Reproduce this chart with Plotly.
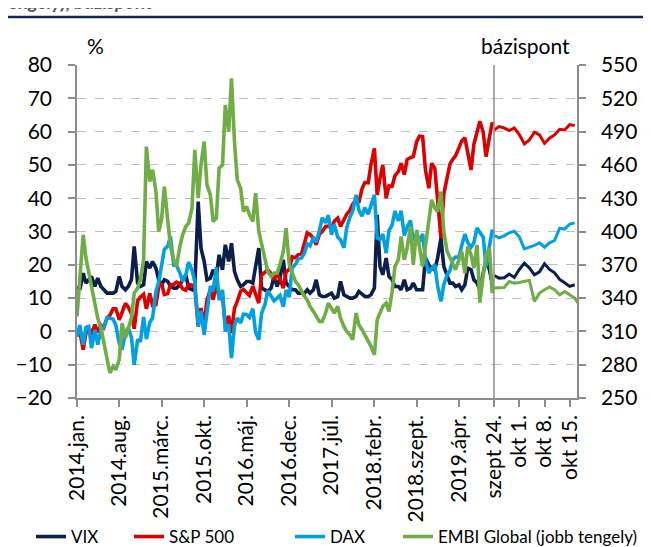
import pandas as pd
import plotly.graph_objects as go

# ---------------- data ----------------
# left panel: semi-monthly observations 2014-01 .. 2019-09
left_dates = list(pd.date_range('2014-01-01', '2019-09-15', freq='SMS').strftime('%Y-%m-%d')) + ['2019-09-23']

vix_left = (
    [13.5, 12.5, 17.5, 14.5, 15.5, 16.5, 13.5, 16.0, 13.5, 12.5, 11.5, 11.5, 11.5, 12.0, 16.5, 13.5, 12.5, 13.5, 15.5, 25.5, 14.5, 13.5, 14.0, 21.0]
    + [19.0, 21.0, 19.0, 15.5, 14.0, 15.5, 15.0, 13.5, 13.0, 13.0, 14.0, 15.5, 17.0, 13.0, 12.5, 13.5, 39.0, 25.0, 21.0, 15.5, 16.0, 18.5, 16.5, 23.0]
    + [18.5, 26.0, 21.0, 26.5, 18.0, 15.5, 13.5, 14.0, 15.0, 15.0, 14.5, 19.5, 25.0, 13.0, 12.5, 12.0, 13.0, 16.5, 13.5, 16.0, 21.5, 14.5, 13.5, 12.5]
    + [12.5, 11.5, 11.5, 11.5, 12.5, 11.5, 12.5, 15.5, 11.0, 10.5, 10.5, 11.0, 11.5, 10.0, 10.5, 15.0, 11.0, 10.5, 10.0, 10.0, 10.5, 12.0, 11.0, 10.5]
    + [10.5, 11.0, 13.0, 35.0, 19.5, 17.0, 22.0, 16.5, 15.5, 13.5, 13.5, 12.5, 15.5, 12.5, 13.0, 14.5, 12.5, 12.5, 12.5, 22.0, 20.0, 19.0, 18.5, 22.0]
    + [28.0, 19.5, 17.0, 14.5, 14.5, 13.5, 14.0, 12.5, 14.0, 19.0, 18.5, 15.5, 14.5, 12.5, 17.5, 21.5, 18.5, 14.5, 15.0]
)
sp500_left = (
    [-0.9, 0.0, -5.5, -0.5, 0.6, -0.4, 2.0, -0.3, 1.9, 1.1, 4.1, 4.8, 6.8, 6.8, 3.5, 5.8, 8.4, 7.3, 5.3, 0.8, 9.2, 10.3, 11.1, 6.8]
    + [11.4, 7.8, 8.0, 13.4, 14.5, 11.1, 11.4, 14.0, 14.1, 14.8, 14.3, 12.8, 12.4, 14.1, 13.9, 13.2, 1.5, 7.0, 2.0, 9.5, 12.5, 9.5, 13.8, 10.6]
    + [10.6, 1.7, 4.7, -0.5, 7.0, 9.0, 12.1, 12.6, 11.7, 10.8, 13.6, 11.5, 8.5, 16.9, 17.6, 18.5, 17.4, 15.5, 17.3, 15.7, 13.0, 17.9, 18.6, 22.4]
    + [22.1, 23.1, 23.4, 27.1, 29.6, 29.1, 28.0, 26.0, 29.2, 30.0, 31.5, 31.6, 31.1, 33.1, 34.0, 31.5, 33.9, 35.2, 36.3, 38.2, 39.5, 38.7, 42.9, 44.7]
    + [44.6, 50.2, 55.0, 41.0, 46.0, 50.0, 40.0, 43.7, 43.6, 46.7, 48.0, 50.5, 47.1, 51.6, 52.2, 52.5, 57.0, 58.6, 58.5, 48.6, 43.0, 50.5, 49.0, 40.6]
    + [28.0, 41.2, 46.5, 50.2, 51.7, 52.7, 55.1, 57.2, 58.1, 54.2, 48.5, 56.2, 60.4, 63.1, 59.8, 52.5, 58.3, 62.7, 61.9]
)
dax_left = (
    [-1.6, 1.9, -4.0, 1.2, 1.5, -5.0, 0.5, -4.0, 0.5, 1.1, 4.1, 3.8, 3.7, 1.8, -3.6, -5.5, -0.4, 1.1, -1.8, -10.0, -2.4, -3.1, 4.3, -2.3]
    + [2.7, 4.0, 12.0, 14.8, 19.4, 24.6, 25.6, 28.5, 19.9, 19.8, 17.6, 15.0, 17.0, 20.8, 18.4, 15.0, 1.5, 6.1, -1.0, 5.4, 13.6, 12.1, 19.2, 9.4]
    + [12.5, 0.0, 2.1, -8.0, 1.7, 4.0, 2.5, 5.2, 5.1, 4.2, 6.8, -0.3, -2.5, 5.4, 8.1, 12.2, 10.3, 9.2, 10.0, 10.8, 7.4, 12.4, 10.3, 19.0]
    + [20.2, 21.7, 22.1, 23.5, 26.3, 25.7, 28.3, 26.8, 30.2, 34.1, 32.6, 34.9, 29.0, 32.2, 28.3, 27.5, 25.1, 31.1, 34.3, 36.0, 41.0, 36.4, 34.6, 37.2]
    + [35.2, 38.2, 41.0, 28.0, 27.6, 29.2, 23.5, 30.3, 32.0, 36.1, 33.2, 36.2, 28.8, 31.3, 33.3, 27.3, 29.4, 26.9, 29.3, 21.6, 17.5, 18.9, 20.0, 13.7]
    + [9.0, 14.0, 17.0, 18.3, 21.5, 22.3, 22.3, 25.8, 29.2, 26.7, 25.3, 26.6, 31.1, 29.7, 28.3, 19.5, 25.0, 30.5, 29.2]
)
embi_left = (
    [323.5, 359.5, 397, 376, 364, 352, 334, 322, 313, 301, 283, 272.5, 278.5, 275.5, 284.5, 317.5, 304, 313, 322, 344.5, 349, 356.5, 374.5, 476.5]
    + [445, 455.5, 436, 400, 410.5, 440.5, 409, 386.5, 374.5, 368.5, 386.5, 397, 404.5, 407.5, 421, 473.5, 430, 460, 481, 442, 433, 409, 412, 457]
    + [460, 514, 490, 538, 481, 446.5, 439, 418, 422.5, 415, 409, 434.5, 400, 388, 376, 364, 359.5, 362.5, 362.5, 370, 382, 403, 370, 362.5]
    + [355, 352, 346, 341.5, 338.5, 332.5, 328, 323.5, 319, 319, 326.5, 335.5, 331, 326.5, 332.5, 322, 314.5, 310, 307, 302.5, 326.5, 316, 311.5, 307]
    + [301, 296.5, 289, 320.5, 326.5, 332.5, 335.5, 328, 346, 368.5, 374.5, 395.5, 374.5, 385, 404.5, 370, 401.5, 386.5, 368.5, 386.5, 409, 428.5, 421, 418]
    + [436, 400, 382, 376, 370, 365.5, 374.5, 382, 362.5, 386.5, 379, 367, 388, 336, 361, 379, 385, 344.5, 355]
)

# right panel: daily observations 24 Sept - 16/17 Oct 2019
right_dates = ['2019-09-24', '2019-09-25', '2019-09-26', '2019-09-27', '2019-09-30',
               '2019-10-01', '2019-10-02', '2019-10-03', '2019-10-04', '2019-10-07',
               '2019-10-08', '2019-10-09', '2019-10-10', '2019-10-11', '2019-10-14',
               '2019-10-15', '2019-10-16']
embi_right_dates = right_dates + ['2019-10-17']
vix_right = [16.8, 16.0, 16.1, 17.2, 16.2, 18.6, 20.5, 19.1, 17.0, 17.9, 20.3, 18.6, 17.6, 15.6, 14.6, 13.5, 14.0]
sp500_right = [60.5, 61.5, 61.1, 60.3, 61.1, 59.1, 56.3, 57.5, 59.8, 59.0, 56.5, 58.0, 59.0, 60.7, 60.5, 62.1, 61.8]
dax_right = [28.8, 28.1, 28.7, 29.6, 30.1, 28.4, 24.8, 25.3, 25.8, 26.6, 25.3, 26.6, 27.3, 31.0, 30.7, 32.2, 32.6]
embi_right = [349, 349, 349.5, 355, 353.5, 354, 355, 356, 337, 344.5, 347.5, 350, 347.5, 343, 346, 343, 340, 333]

left_tick_vals = ['2014-01-01', '2014-08-01', '2015-03-01', '2015-10-01', '2016-05-01',
                  '2016-12-01', '2017-07-01', '2018-02-01', '2018-09-01', '2019-04-01']
left_tick_text = ['2014.jan.', '2014.aug.', '2015.márc.', '2015.okt.', '2016.máj.',
                  '2016.dec.', '2017.júl.', '2018.febr.', '2018.szept.', '2019.ápr.']
right_tick_vals = ['2019-09-24', '2019-10-01', '2019-10-08', '2019-10-15']
right_tick_text = ['szept 24.', 'okt 1.', 'okt 8.', 'okt 15.']

series_names = ['VIX', 'S&P 500', 'DAX', 'EMBI Global (jobb tengely)']
colors = ['#0C1F4A', '#DD0000', '#00A0E3', '#70AD47']

# ---------------- figure ----------------
GREY = '#8C8C8C'
FONT = 'Lato'
W, H = 651, 547
OFF = 8  # page body margin: screen px = figure px + OFF
# plot area in screen pixels: x 77..577, y 65..398
ML = 77 - OFF
MT = 65 - OFF
MR = W - (577 - OFF)
MB = H - (398 - OFF)
PW, PH = W - ML - MR, H - MT - MB
SPLIT = (494 - 77) / PW


def px_x(p):
    """screen x pixel -> paper x"""
    return (p - OFF - ML) / PW


def px_y(p):
    """screen y pixel -> paper y"""
    return (H - MB - (p - OFF)) / PH


fig = go.Figure()
left_sets = [(vix_left, 'y'), (sp500_left, 'y'), (dax_left, 'y'), (embi_left, 'y2')]
right_sets = [(right_dates, vix_right, 'y'), (right_dates, sp500_right, 'y'),
              (right_dates, dax_right, 'y'), (embi_right_dates, embi_right, 'y2')]
legend_widths = [53, 116, 40, None]
legend_ids = ['legend', 'legend', 'legend', 'legend2']

for i, name in enumerate(series_names):
    vals, yax = left_sets[i]
    kw = {}
    if legend_widths[i] is not None:
        kw['legendwidth'] = legend_widths[i]
    fig.add_trace(go.Scatter(
        x=left_dates, y=vals, name=name, mode='lines', xaxis='x', yaxis=yax,
        line=dict(color=colors[i], width=3.6), legendgroup=name,
        legend=legend_ids[i], showlegend=True, **kw))
    rdates, rvals, ryax = right_sets[i]
    fig.add_trace(go.Scatter(
        x=rdates, y=rvals, name=name, mode='lines', xaxis='x2', yaxis=ryax,
        line=dict(color=colors[i], width=3.0), legendgroup=name,
        legend=legend_ids[i], showlegend=False))

axis_common = dict(showline=True, linecolor=GREY, linewidth=1.5, ticks='outside',
                   ticklen=7, tickcolor=GREY, tickwidth=1.5, zeroline=False,
                   tickfont=dict(family=FONT, size=21, color='#000000'))

fig.update_layout(
    width=W, height=H,
    margin=dict(l=ML, r=MR, t=MT, b=MB, autoexpand=False),
    paper_bgcolor='white', plot_bgcolor='white',
    font=dict(family=FONT, size=21, color='#000000'),
    xaxis=dict(domain=[0, SPLIT], type='date', range=['2014-01-01', '2019-09-24'],
               tickmode='array', tickvals=left_tick_vals, ticktext=left_tick_text,
               tickangle=-90, showgrid=False, anchor='y', **axis_common),
    xaxis2=dict(domain=[SPLIT, 1], type='category', categoryorder='array',
                categoryarray=embi_right_dates, range=[-0.02, 16.45],
                tickmode='array', tickvals=right_tick_vals, ticktext=right_tick_text,
                tickangle=-90, showgrid=False, anchor='y', **axis_common),
    yaxis=dict(domain=[0, 1], range=[-20, 80], tick0=0, dtick=10, anchor='x', side='left',
               showgrid=True, gridcolor='#BFBFBF', griddash='dash', gridwidth=1.3,
               ticklabelstandoff=12, **axis_common),
    yaxis2=dict(range=[250, 550], tick0=250, dtick=30, anchor='x2', side='right',
                overlaying='y', showgrid=False, ticklabelstandoff=11, **axis_common),
    legend=dict(orientation='h', x=px_x(31), xanchor='left', y=px_y(537), yanchor='middle',
                font=dict(family=FONT, size=17, color='#000000'), bgcolor='rgba(0,0,0,0)',
                traceorder='normal'),
    legend2=dict(orientation='h', x=px_x(398), xanchor='left', y=px_y(537), yanchor='middle',
                 font=dict(family=FONT, size=17, color='#000000'), bgcolor='rgba(0,0,0,0)'),
    showlegend=True,
)

# separator between the two panels and the title rule
fig.add_shape(type='line', xref='x2 domain', x0=0, x1=0, yref='y domain', y0=0, y1=1,
              line=dict(color=GREY, width=1.5))
fig.add_shape(type='line', xref='paper', x0=px_x(0), x1=px_x(W + 8), yref='paper',
              y0=px_y(17), y1=px_y(17), line=dict(color='#13284F', width=2.5))

fig.add_annotation(text='%', xref='paper', yref='paper', x=px_x(95), y=px_y(45),
                   xanchor='center', yanchor='middle', showarrow=False,
                   font=dict(family=FONT, size=21, color='#000000'))
fig.add_annotation(text='bázispont', xref='paper', yref='paper', x=px_x(525), y=px_y(45),
                   xanchor='center', yanchor='middle', showarrow=False,
                   font=dict(family=FONT, size=21, color='#000000'))
fig.add_annotation(text='<b><i>tengely), bázispont</i></b>', xref='paper', yref='paper',
                   x=px_x(0), y=px_y(2), xanchor='left', yanchor='middle', showarrow=False,
                   font=dict(family=FONT, size=19, color='#595959'))

fig.write_html('out.html')
